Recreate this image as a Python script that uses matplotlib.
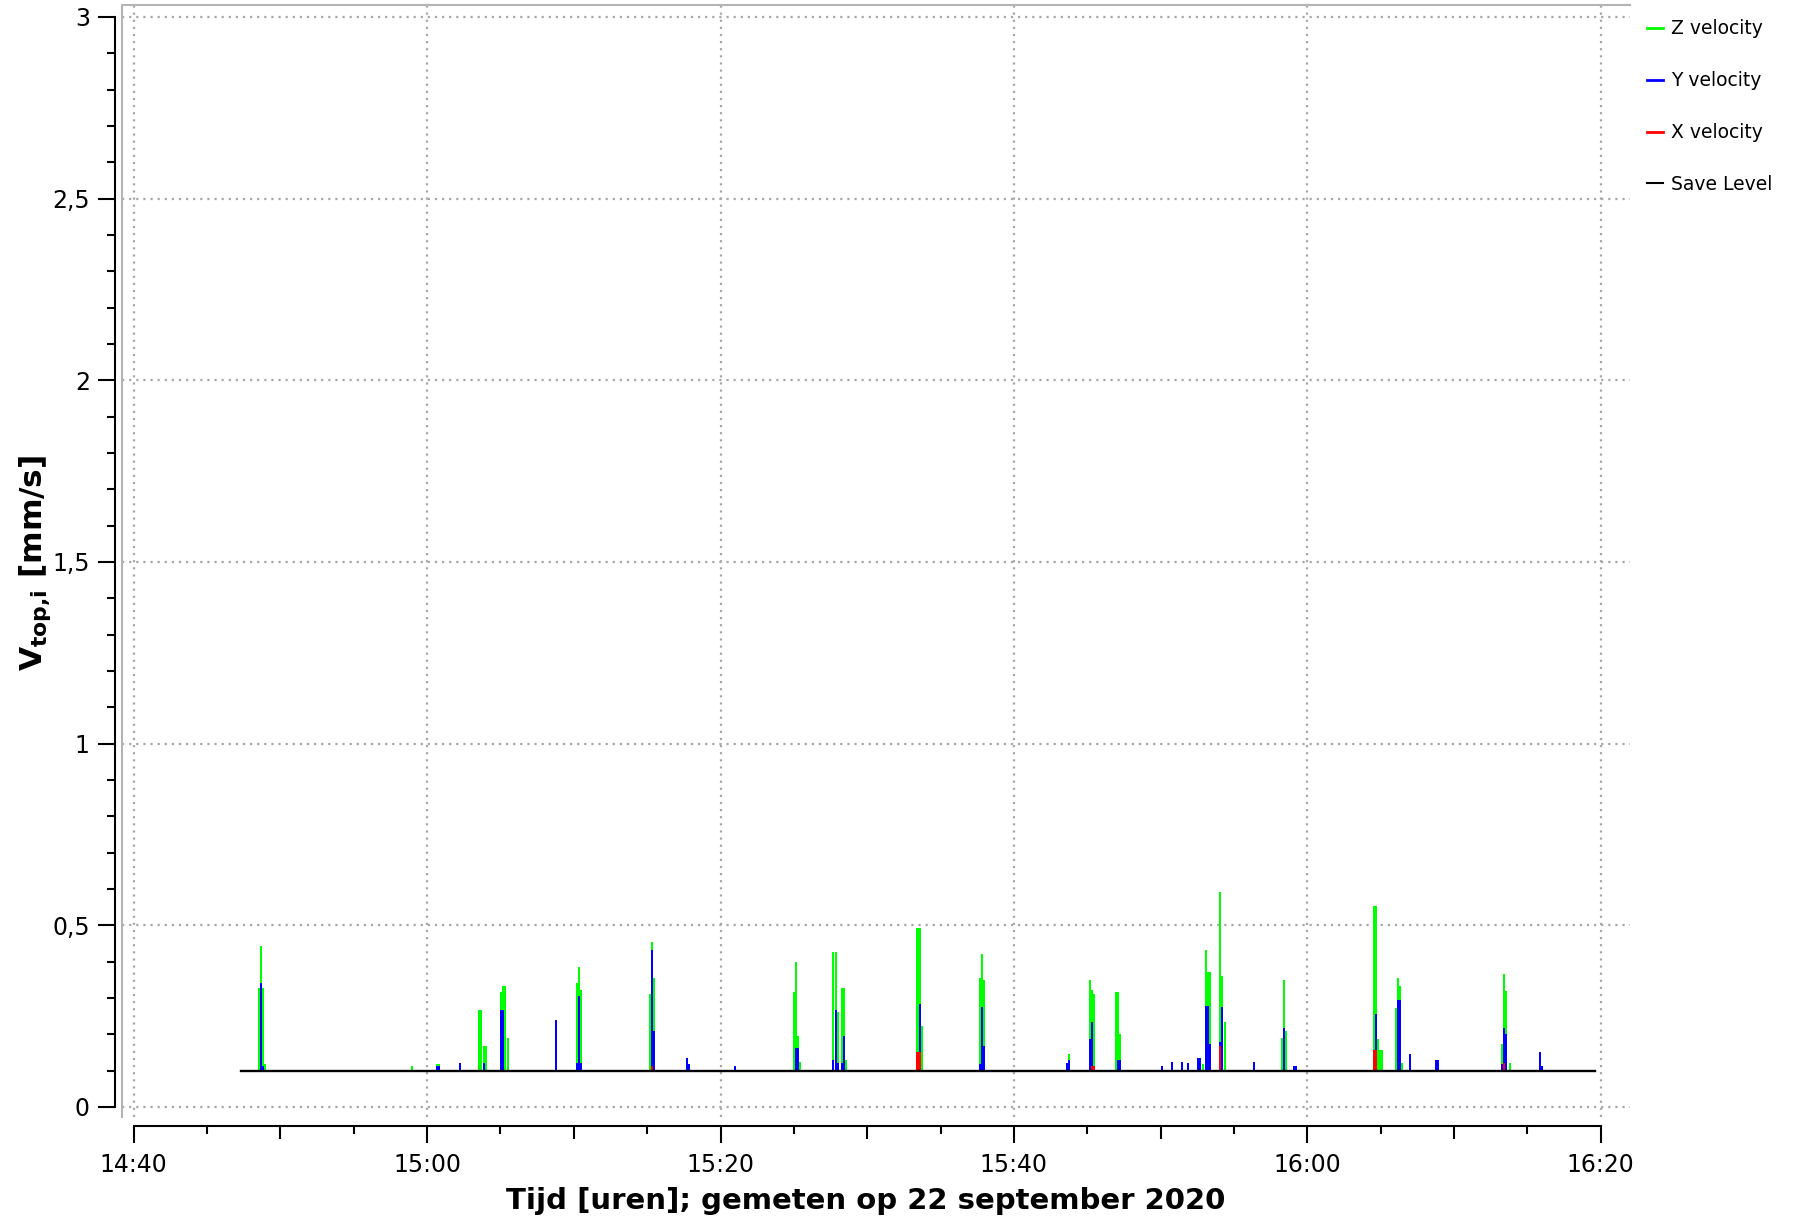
import numpy as np
import matplotlib
matplotlib.use("Agg")
import matplotlib.pyplot as plt
from matplotlib.ticker import MultipleLocator, FixedLocator, FuncFormatter
from matplotlib.lines import Line2D

# sample times, minutes after 14:40
t_min = [8.54, 8.68, 8.81, 8.95, 18.97, 20.67, 20.81, 22.24, 23.54, 23.67,
         23.88, 24.01, 25.04, 25.17, 25.31, 25.51, 28.79, 30.22, 30.36, 30.49,
         35.19, 35.33, 35.47, 37.72, 37.85, 41.02, 45.01, 45.15, 45.28, 45.42,
         47.67, 47.87, 48.01, 48.28, 48.42, 48.55, 53.43, 53.57, 53.74, 57.69,
         57.83, 57.96, 63.62, 63.76, 65.19, 65.32, 65.46, 66.96, 67.10, 67.23,
         70.10, 70.78, 71.46, 71.87, 72.55, 72.68, 72.89, 73.10, 73.23, 73.37,
         74.05, 74.19, 74.36, 76.37, 78.28, 78.41, 78.55, 79.10, 79.23, 84.55,
         84.68, 84.82, 84.96, 85.09, 86.05, 86.19, 86.32, 86.46, 87.00, 88.77,
         88.91, 93.27, 93.41, 93.55, 93.82, 95.86, 96.00]

# velocities in mm/s (0 = below save level, not shown)
z_vel = [0.327, 0.442, 0.327, 0.117, 0.112, 0.117, 0.117, 0, 0.266, 0.266,
         0.167, 0.167, 0.317, 0.332, 0.332, 0.189, 0, 0.340, 0.385, 0.321,
         0.310, 0.453, 0.354, 0, 0, 0, 0.316, 0.398, 0.194, 0.123,
         0.426, 0.426, 0.261, 0.327, 0.327, 0.130, 0.492, 0.492, 0.222, 0.354,
         0.420, 0.349, 0, 0.145, 0.349, 0.321, 0.310, 0.316, 0.316, 0.200,
         0, 0, 0, 0, 0, 0, 0.117, 0.431, 0.371, 0.371,
         0.591, 0.360, 0.233, 0, 0.189, 0.349, 0.208, 0, 0, 0.552,
         0.552, 0.186, 0.156, 0.156, 0.271, 0.354, 0.332, 0.120, 0, 0,
         0, 0.172, 0.365, 0.318, 0.120, 0, 0]
y_vel = [0, 0.340, 0.112, 0, 0, 0.112, 0.112, 0.120, 0, 0,
         0.120, 0, 0.266, 0.266, 0, 0, 0.239, 0.120, 0.305, 0.120,
         0, 0.431, 0.208, 0.134, 0.117, 0.112, 0, 0.161, 0.161, 0,
         0.130, 0.266, 0.120, 0.120, 0.194, 0, 0, 0.283, 0, 0.117,
         0.274, 0.167, 0.120, 0.130, 0.188, 0.233, 0, 0, 0.130, 0.130,
         0.112, 0.123, 0.123, 0.120, 0.134, 0.134, 0, 0.277, 0.277, 0.172,
         0.178, 0.274, 0, 0.123, 0, 0.216, 0, 0.112, 0.112, 0,
         0.255, 0, 0, 0, 0, 0.294, 0.294, 0, 0.145, 0.128,
         0.128, 0.117, 0.216, 0.200, 0, 0.150, 0.112]
x_vel = [0, 0, 0, 0, 0, 0, 0, 0, 0, 0,
         0, 0, 0, 0, 0, 0, 0, 0, 0, 0,
         0, 0.112, 0, 0, 0, 0, 0, 0, 0, 0,
         0, 0, 0, 0, 0, 0, 0.150, 0.150, 0, 0,
         0, 0, 0, 0, 0, 0.112, 0.112, 0, 0, 0,
         0, 0, 0, 0, 0, 0, 0, 0, 0, 0,
         0.167, 0, 0, 0, 0, 0, 0, 0, 0, 0.156,
         0.156, 0, 0, 0, 0, 0, 0, 0, 0, 0,
         0, 0, 0.120, 0, 0, 0, 0]

save_level = 0.1
save_span = [7.31, 99.61]

tick_pos = [0, 20, 40, 60, 80, 100]
tick_labels = ["14:40", "15:00", "15:20", "15:40", "16:00", "16:20"]

series = [("Z velocity", z_vel, "#00ff00"),
          ("Y velocity", y_vel, "#0000ff"),
          ("X velocity", x_vel, "#ff0000")]

fig = plt.figure(figsize=(17.94, 12.18), dpi=100)
ax = fig.add_axes([122 / 1794, 1 - 1117 / 1218, 1508 / 1794, 1112 / 1218])

t = np.array(t_min)
for name, vals, col in series:
    v = np.array(vals)
    h = np.clip(v - save_level, 0, None)
    ax.bar(t, h, bottom=save_level, width=0.14, color=col, linewidth=0, zorder=2)

ax.plot(save_span, [save_level, save_level], color="black", lw=1.7, zorder=3)

ax.set_xlim(-0.8, 102.0)
ax.set_ylim(-0.028, 3.033)

# axes look
for s in ["top", "right"]:
    ax.spines[s].set_visible(False)
ax.spines["left"].set_position(("outward", 5.0))
ax.spines["bottom"].set_position(("outward", 6.5))
ax.spines["left"].set_bounds(0, 3)
ax.spines["bottom"].set_bounds(0, 100)
ax.spines["left"].set_linewidth(1.5)
ax.spines["bottom"].set_linewidth(1.5)
ax.plot([0, 0, 1], [0, 1, 1], transform=ax.transAxes, color="#b4b4b4",
        lw=1.5, clip_on=False, zorder=1)

ax.xaxis.set_major_locator(FixedLocator(tick_pos))
ax.set_xticklabels(tick_labels)
ax.xaxis.set_minor_locator(MultipleLocator(5))
ax.yaxis.set_major_locator(MultipleLocator(0.5))
ax.yaxis.set_minor_locator(MultipleLocator(0.1))
ax.yaxis.set_major_formatter(FuncFormatter(lambda v, p: f"{v:g}".replace(".", ",")))

ax.tick_params(which="major", length=12.2, width=1.5, labelsize=17, color="black")
ax.tick_params(which="minor", length=5.8, width=1.5)
ax.tick_params(axis="y", which="major", pad=6)
ax.tick_params(axis="x", which="major", pad=7)

ax.grid(True, which="major", color="#a8a8a8", linestyle=(0, (1, 2.2)), lw=1.6)
ax.set_axisbelow(True)

ax.set_xlabel("Tijd [uren]; gemeten op 22 september 2020", fontsize=21,
              fontweight="bold")
ax.xaxis.set_label_coords((866 - 122) / 1508, -0.063)
ax.set_ylabel(r"V$_{\mathbf{top{,}i}}$ [mm/s]", fontsize=22.5, fontweight="bold")
ax.yaxis.set_label_coords(-0.046, (1117 - 563) / 1112)

handles = [Line2D([], [], color=col, lw=2) for _, _, col in series]
handles.append(Line2D([], [], color="black", lw=1.5))
labels = [name for name, _, _ in series] + ["Save Level"]
fig.legend(handles, labels, loc="upper left", bbox_to_anchor=(1647 / 1794, 0.984),
           frameon=False, fontsize=13.5, handlelength=0.85, handletextpad=0.45,
           labelspacing=1.75, borderpad=0, borderaxespad=0)

# 10-minute ticks are a bit longer than the 5-minute ones
locs = ax.xaxis.get_minorticklocs()
for tk, loc in zip(ax.xaxis.get_minor_ticks(len(locs)), locs):
    if abs(loc % 10) < 1e-6:
        tk.tick1line.set_markersize(9.4)

fig.savefig("out.png", dpi=100)
